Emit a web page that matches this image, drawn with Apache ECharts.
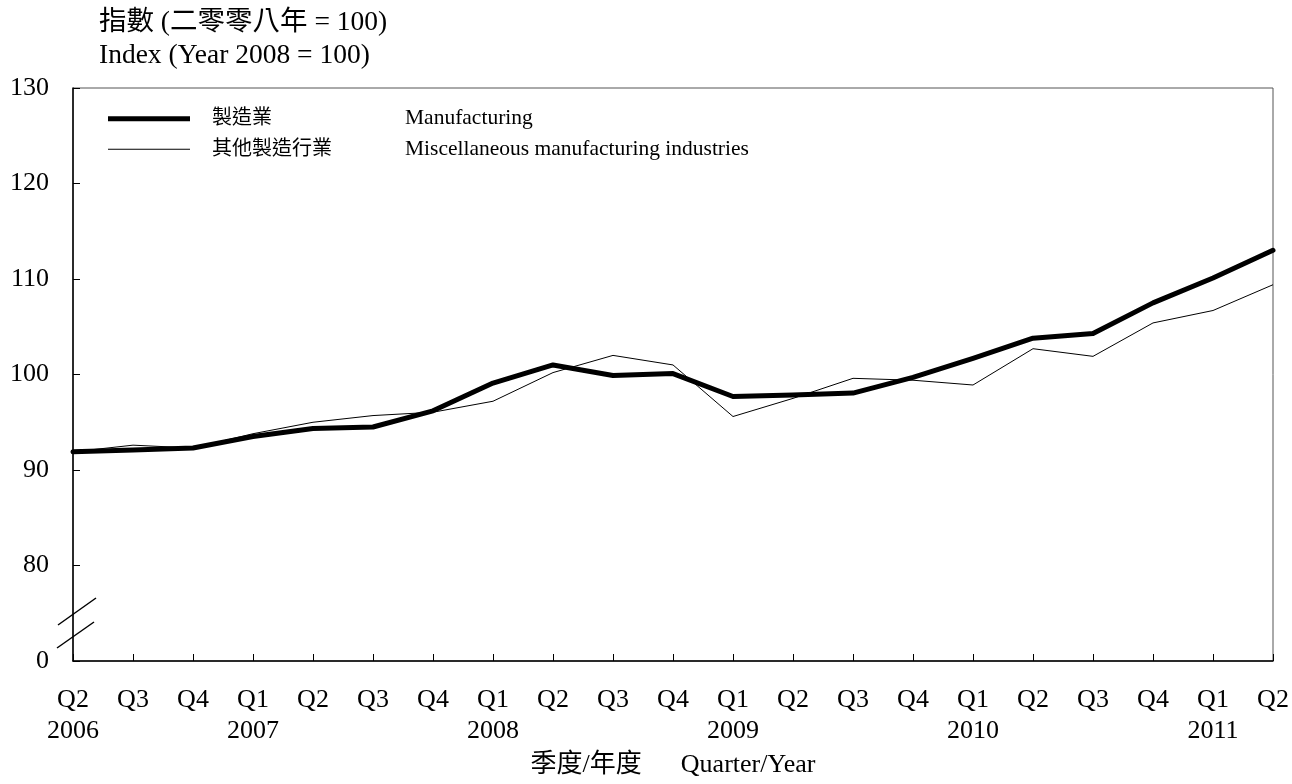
<!DOCTYPE html>
<html>
<head>
<meta charset="utf-8">
<script src="https://cdn.jsdelivr.net/npm/echarts@6/dist/echarts.min.js"></script>
<style>
html,body{margin:0;padding:0;background:#fff;}
#main{width:1292px;height:784px;}
</style>
</head>
<body>
<div id="main"></div>
<script>
const quarters = ['Q2','Q3','Q4','Q1','Q2','Q3','Q4','Q1','Q2','Q3','Q4','Q1','Q2','Q3','Q4','Q1','Q2','Q3','Q4','Q1','Q2'];
const years = ['2006','','','2007','','','','2008','','','','2009','','','','2010','','','','2011',''];
const manufacturing = [91.9, 92.1, 92.3, 93.5, 94.35, 94.5, 96.2, 99.1, 101.0, 99.9, 100.1, 97.7, 97.85, 98.05, 99.7, 101.7, 103.8, 104.3, 107.5, 110.1, 113.0];
const miscellaneous = [91.9, 92.6, 92.3, 93.8, 95.0, 95.7, 96.05, 97.2, 100.2, 102.0, 101.0, 95.6, 97.5, 99.6, 99.4, 98.9, 102.7, 101.9, 105.4, 106.7, 109.4];
const seriesNames = ['製造業', '其他製造行業'];
const seriesNamesEn = ['Manufacturing', 'Miscellaneous manufacturing industries'];
const yTicks = [70, 80, 90, 100, 110, 120, 130];
const yTickLabels = ['0', '80', '90', '100', '110', '120', '130'];

const categories = quarters.map((q, i) => q + '\n' + (years[i] || ' '));
const FONT = "'Liberation Serif', 'Times New Roman', 'Noto Sans CJK TC', serif";

const chart = echarts.init(document.getElementById('main'), null, {renderer: 'canvas'});
const option = {
  backgroundColor: '#fff',
  animation: false,
  title: [
    {text: '指數 (二零零八年 = 100)', left: 94, top: 4,
     textStyle: {fontFamily: FONT, fontSize: 27.5, fontWeight: 'normal', color: '#000'}},
    {text: 'Index (Year 2008 = 100)', left: 94, top: 37,
     textStyle: {fontFamily: FONT, fontSize: 27.5, fontWeight: 'normal', color: '#000'}}
  ],
  grid: {left: 73, right: 19, top: 88, bottom: 123, show: true, borderColor: '#555', borderWidth: 1, containLabel: false},
  legend: {
    orient: 'vertical', left: 103, top: 103,
    itemWidth: 82, itemHeight: 16, itemGap: 9,
    symbolKeepAspect: true,
    data: [
      {name: seriesNames[0], icon: 'path://M0,0 L82,0 L82,5 L0,5 Z', itemStyle: {color: '#000'}},
      {name: seriesNames[1], icon: 'path://M0,0 L82,0 L82,1.2 L0,1.2 Z', itemStyle: {color: '#000'}}
    ],
    formatter: function (name) {
      const i = seriesNames.indexOf(name);
      return '{c|' + name + '}{e|' + seriesNamesEn[i] + '}';
    },
    textStyle: {
      padding: [0, 0, 0, 17],
      fontFamily: FONT, fontSize: 20, color: '#000',
      rich: {
        c: {width: 193, fontFamily: FONT, fontSize: 20, color: '#000'},
        e: {fontFamily: FONT, fontSize: 21.5, color: '#000'}
      }
    }
  },
  xAxis: {
    type: 'category',
    data: categories,
    boundaryGap: false,
    axisLine: {lineStyle: {color: '#000', width: 1.5}},
    axisTick: {inside: true, length: 7, lineStyle: {color: '#000'}, interval: 0},
    axisLabel: {interval: 0, margin: 24, fontFamily: FONT, fontSize: 26, color: '#000', lineHeight: 31},
    splitLine: {show: false},
    name: '季度/年度      Quarter/Year',
    nameLocation: 'middle',
    nameGap: 90,
    nameTextStyle: {fontFamily: FONT, fontSize: 26, color: '#000'}
  },
  yAxis: {
    type: 'value',
    min: 70, max: 130, interval: 10,
    axisLine: {show: true, lineStyle: {color: '#000', width: 1.5}},
    axisTick: {show: true, inside: true, length: 7, lineStyle: {color: '#000'}},
    axisLabel: {
      margin: 24, fontFamily: FONT, fontSize: 26, color: '#000',
      formatter: function (v) { const i = yTicks.indexOf(v); return i >= 0 ? yTickLabels[i] : ''; }
    },
    splitLine: {show: false}
  },
  series: [
    {name: seriesNames[0], type: 'line', data: manufacturing, symbol: 'none', z: 3,
     lineStyle: {color: '#000', width: 5, cap: 'round', join: 'round'}, itemStyle: {color: '#000'}},
    {name: seriesNames[1], type: 'line', data: miscellaneous, symbol: 'none', z: 2,
     lineStyle: {color: '#000', width: 1}, itemStyle: {color: '#000'}}
  ],
  graphic: [
    {type: 'line', shape: {x1: 58, y1: 625, x2: 96, y2: 598}, style: {stroke: '#000', lineWidth: 1.5}, z: 10},
    {type: 'line', shape: {x1: 57, y1: 648, x2: 94, y2: 622}, style: {stroke: '#000', lineWidth: 1.5}, z: 10}
  ]
};
chart.setOption(option);
</script>
</body>
</html>
